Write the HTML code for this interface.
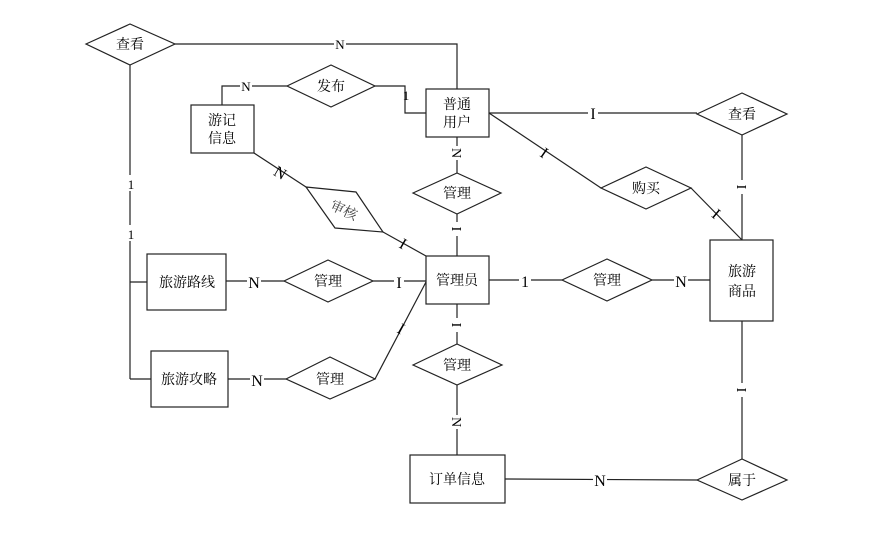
<!DOCTYPE html>
<html><head><meta charset="utf-8"><style>
html,body{margin:0;padding:0;background:#fff;}
svg text{font-family:"Liberation Serif","Noto Serif CJK SC",serif;}
.c{font-family:"Liberation Sans","Noto Sans CJK SC",sans-serif;font-size:14px;}
</style></head><body>
<svg width="877" height="530" viewBox="0 0 877 530" xmlns="http://www.w3.org/2000/svg">
<g fill="none" stroke="#222" stroke-width="1.2">
<!-- lines -->
<polyline points="175,44 457,44 457,89"/>
<line x1="130" y1="65" x2="130" y2="379"/>
<line x1="130" y1="282" x2="147" y2="282"/>
<line x1="130" y1="379" x2="151" y2="379"/>
<polyline points="222,105 222,86 287,86"/>
<polyline points="375,86 405,86 405,113 426,113"/>
<line x1="254" y1="153" x2="306" y2="187"/>
<line x1="383" y1="232" x2="426" y2="256"/>
<line x1="457" y1="137" x2="457" y2="173"/>
<line x1="457" y1="214" x2="457" y2="256"/>
<line x1="489" y1="113" x2="697" y2="113"/>
<line x1="742" y1="135" x2="742" y2="240"/>
<line x1="489" y1="113" x2="601" y2="188"/>
<line x1="691" y1="188" x2="742" y2="240"/>
<line x1="489" y1="280" x2="562" y2="280"/>
<line x1="652" y1="280" x2="710" y2="280"/>
<line x1="226" y1="281" x2="284" y2="281"/>
<line x1="373" y1="281" x2="426" y2="281"/>
<line x1="228" y1="379" x2="286" y2="379"/>
<line x1="375" y1="379" x2="426" y2="282"/>
<line x1="457" y1="304" x2="457" y2="344"/>
<line x1="457" y1="385" x2="457" y2="455"/>
<line x1="505" y1="479" x2="697" y2="480"/>
<line x1="742" y1="321" x2="742" y2="459"/>
<!-- boxes -->
<rect x="191" y="105" width="63" height="48" fill="#fff"/>
<rect x="426" y="89" width="63" height="48" fill="#fff"/>
<rect x="426" y="256" width="63" height="48" fill="#fff"/>
<rect x="710" y="240" width="63" height="81" fill="#fff"/>
<rect x="147" y="254" width="79" height="56" fill="#fff"/>
<rect x="151" y="351" width="77" height="56" fill="#fff"/>
<rect x="410" y="455" width="95" height="48" fill="#fff"/>
<!-- diamonds -->
<polygon points="86,44 130,24 175,44 130,65" fill="#fff"/>
<polygon points="287,86 331,65 375,86 331,107" fill="#fff"/>
<polygon points="306,187 356,192 383,232 335,228" fill="#fff"/>
<polygon points="413,193 457,173 501,193 457,214" fill="#fff"/>
<polygon points="697,114 742,93 787,114 742,135" fill="#fff"/>
<polygon points="601,188 646,167 691,188 646,209" fill="#fff"/>
<polygon points="562,280 607,259 652,280 607,301" fill="#fff"/>
<polygon points="284,281 328,260 373,281 328,302" fill="#fff"/>
<polygon points="286,379 330,357 375,379 330,399" fill="#fff"/>
<polygon points="413,365 457,344 502,365 457,385" fill="#fff"/>
<polygon points="697,480 742,459 787,480 742,500" fill="#fff"/>
</g>
<g class="c" fill="#000" text-anchor="middle">
<text x="130" y="49">查看</text>
<text x="331" y="91">发布</text>
<text x="222" y="125">游记</text>
<text x="222" y="143">信息</text>
<text x="457" y="109">普通</text>
<text x="457" y="127">用户</text>
<text x="457" y="198">管理</text>
<text x="742" y="119">查看</text>
<text x="646" y="193">购买</text>
<text x="457" y="285">管理员</text>
<text x="607" y="285">管理</text>
<text x="742" y="276">旅游</text>
<text x="742" y="296">商品</text>
<text x="187" y="287">旅游路线</text>
<text x="328" y="286">管理</text>
<text x="189" y="384">旅游攻略</text>
<text x="330" y="384">管理</text>
<text x="457" y="370">管理</text>
<text x="457" y="484">订单信息</text>
<text x="742" y="485">属于</text>
<text x="344" y="215" transform="rotate(25 344 210)" fill="#444">审核</text>
</g>
<g fill="#000" text-anchor="middle" font-size="14">
<rect x="334" y="37" width="12" height="14" fill="#fff"/><text x="340" y="49" font-size="13">N</text>
<rect x="240" y="79" width="12" height="14" fill="#fff"/><text x="246" y="91" font-size="13">N</text>
<text x="406" y="100" font-size="13">1</text>
<rect x="125" y="175" width="10" height="16" fill="#fff"/><text x="131" y="189" font-size="13">1</text>
<rect x="125" y="225" width="10" height="16" fill="#fff"/><text x="131" y="239" font-size="13">1</text>
<text x="280" y="178" font-size="16" transform="rotate(30 280 173)">N</text>
<text x="403" y="249" font-size="16" transform="rotate(30 403 244)">I</text>
<rect x="450" y="146" width="14" height="14" fill="#fff"/><text x="457" y="158" font-size="14" transform="rotate(90 457 153)">N</text>
<rect x="450" y="222" width="14" height="14" fill="#fff"/><text x="457" y="234" font-size="14" transform="rotate(90 457 229)">I</text>
<rect x="588" y="105" width="10" height="16" fill="#fff"/><text x="593" y="119" font-size="16">I</text>
<rect x="735" y="180" width="14" height="14" fill="#fff"/><text x="742" y="192" font-size="14" transform="rotate(90 742 187)">I</text>
<text x="544" y="158" font-size="16" transform="rotate(35 544 153)">I</text>
<text x="716" y="219" font-size="16" transform="rotate(40 716 214)">I</text>
<rect x="519" y="272" width="12" height="16" fill="#fff"/><text x="525" y="287" font-size="16">1</text>
<rect x="674" y="272" width="14" height="16" fill="#fff"/><text x="681" y="287" font-size="16">N</text>
<rect x="247" y="273" width="14" height="16" fill="#fff"/><text x="254" y="288" font-size="16">N</text>
<rect x="394" y="273" width="10" height="16" fill="#fff"/><text x="399" y="288" font-size="16">I</text>
<rect x="250" y="371" width="14" height="16" fill="#fff"/><text x="257" y="386" font-size="16">N</text>
<text x="401" y="334" font-size="16" transform="rotate(30 401 329)">I</text>
<rect x="450" y="318" width="14" height="14" fill="#fff"/><text x="457" y="330" font-size="14" transform="rotate(90 457 325)">I</text>
<rect x="450" y="415" width="14" height="14" fill="#fff"/><text x="457" y="427" font-size="14" transform="rotate(90 457 422)">N</text>
<rect x="593" y="471" width="14" height="16" fill="#fff"/><text x="600" y="486" font-size="16">N</text>
<rect x="735" y="383" width="14" height="14" fill="#fff"/><text x="742" y="395" font-size="14" transform="rotate(90 742 390)">I</text>
</g>
</svg>
</body></html>
